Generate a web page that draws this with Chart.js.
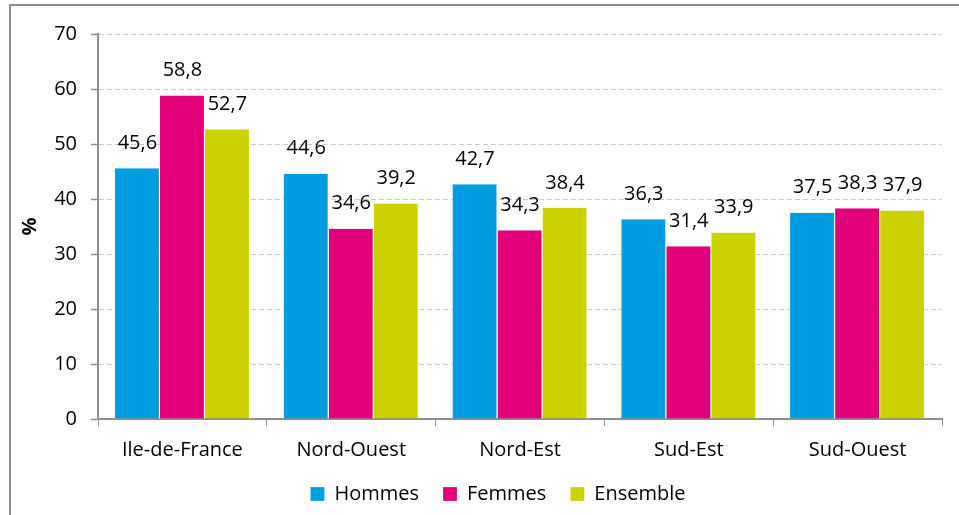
<!DOCTYPE html>
<html><head><meta charset="utf-8">
<script src="https://cdn.jsdelivr.net/npm/chart.js@4/dist/chart.umd.min.js"></script>
<style>
html,body{margin:0;padding:0;background:#fff;overflow:hidden}
#wrap{position:relative;width:959px;height:515px}
#frame{position:absolute;left:9px;top:4px;width:960px;height:520px;border:2px solid #8e8e8e;box-sizing:border-box}
canvas{position:absolute;left:0;top:0}
</style></head><body>
<div id="wrap"><div id="frame"></div><canvas id="c" width="959" height="515"></canvas></div>
<script>
const categories = ["Ile-de-France","Nord-Ouest","Nord-Est","Sud-Est","Sud-Ouest"];
const hommes = [45.6,44.6,42.7,36.3,37.5];
const femmes = [58.8,34.6,34.3,31.4,38.3];
const ensemble = [52.7,39.2,38.4,33.9,37.9];
const seriesNames = ["Hommes","Femmes","Ensemble"];
const yTicks = [0,10,20,30,40,50,60,70];
const FONT = "'Open Sans', 'Noto Sans', sans-serif";
const FS = 20;

const labelPlugin = {
  id:'vlabels',
  afterDatasetsDraw(chart){
    const ctx = chart.ctx;
    ctx.save();
    ctx.font = FS + "px " + FONT;
    ctx.fillStyle = "#000";
    ctx.textAlign = "center";
    ctx.textBaseline = "middle";
    chart.data.datasets.forEach((ds,i)=>{
      chart.getDatasetMeta(i).data.forEach((bar,j)=>{
        const t = ds.data[j].toFixed(1).replace('.',',');
        ctx.fillText(t, bar.x, bar.y - 25);
      });
    });
    ctx.restore();
  }
};

const legendShift = {
  id:'legendShift',
  afterLayout(chart){
    if (chart.legend){ chart.legend.left += 21; chart.legend.right += 21; }
  }
};

new Chart(document.getElementById('c'), {
  type:'bar',
  data:{
    labels: categories,
    datasets:[
      {label:seriesNames[0], data:hommes, backgroundColor:'#009ee0', borderColor:'#ffffff', borderWidth:{left:0,right:1,top:0,bottom:0}},
      {label:seriesNames[1], data:femmes, backgroundColor:'#e2007a', borderColor:'#ffffff', borderWidth:{left:0,right:1,top:0,bottom:0}},
      {label:seriesNames[2], data:ensemble, backgroundColor:'#ccd200', borderColor:'#ffffff', borderWidth:{left:0,right:1,top:0,bottom:0}}
    ]
  },
  options:{
    responsive:false,
    animation:false,
    devicePixelRatio:1,
    layout:{padding:{left:12,right:17,top:34,bottom:1}},
    datasets:{bar:{categoryPercentage:0.8,barPercentage:1.0}},
    plugins:{
      legend:{position:'bottom',labels:{boxWidth:14,boxHeight:14,padding:24,color:'#000',font:{family:FONT,size:FS}}},
      tooltip:{enabled:false}
    },
    scales:{
      x:{
        afterFit(axis){ axis.height = 41; },
        grid:{display:true,drawOnChartArea:false,drawTicks:true,tickLength:7,color:'#8e8e8e',offset:true},
        border:{display:true,color:'#8e8e8e',width:2},
        ticks:{color:'#000',font:{family:FONT,size:FS},padding:12}
      },
      y:{
        min:0,max:70,
        afterBuildTicks(axis){ axis.ticks = yTicks.map(v=>({value:v})); },
        afterFit(axis){ axis.width = 86; },
        grid:{color:'#cccccc',lineWidth:1,tickLength:7,drawTicks:true,tickColor:'#8e8e8e',tickBorderDash:[0,0],tickWidth:1.5},
        border:{display:true,color:'#8e8e8e',width:2,dash:[5,3]},
        ticks:{color:'#000',font:{family:FONT,size:FS},padding:14},
        title:{display:true,text:'%',color:'#000',font:{family:FONT,size:FS,weight:'bold'},padding:{top:6,bottom:0}}
      }
    }
  },
  plugins:[labelPlugin, legendShift]
});
</script></body></html>
